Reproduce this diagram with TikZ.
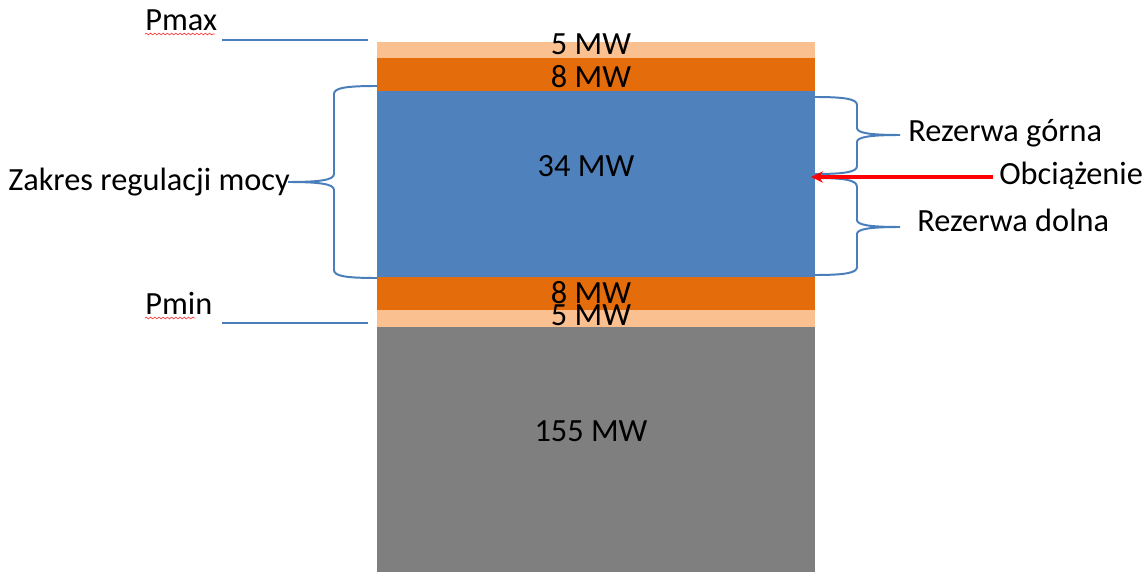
\documentclass[tikz,border=0pt]{standalone}
\usepackage{fontspec}
\setmainfont{Carlito}
\usetikzlibrary{decorations.pathmorphing, arrows.meta}

\definecolor{peach}{HTML}{FAC090}
\definecolor{rust}{HTML}{E46C0A}
\definecolor{steel}{HTML}{4F81BD}
\definecolor{slate}{HTML}{7F7F7F}
\definecolor{bracecol}{HTML}{4A7EBB}

\tikzset{
  brace/.style={draw=bracecol, line width=1.4pt},
  level/.style={draw=bracecol, line width=1.4pt},
  typo/.style={draw=red!75, line width=0.5pt, decorate,
    decoration={snake, segment length=3pt, amplitude=0.6pt}},
  lbl/.style={anchor=base, inner sep=0pt},
  txt/.style={anchor=base west, inner sep=0pt}
}

\begin{document}
\begin{tikzpicture}[x=0.025cm, y=-0.025cm, >={Stealth[length=8.5pt,width=8pt]},
    font=\fontsize{23}{27}\selectfont]
  \useasboundingbox (0,0) rectangle (1147,578);

  % the stack of power bands
  \fill[peach] (377,42) rectangle (815,58);
  \fill[rust] (377,58) rectangle (815,91);
  \fill[steel] (377,91) rectangle (815,277);
  \fill[rust] (377,277) rectangle (815,310);
  \fill[peach] (377,310) rectangle (815,327);
  \fill[slate] (377,327) rectangle (815,572);

  \node[lbl] (topfive) at (591,55) {5 MW};
  \node[lbl] (topeight) at (591,88) {8 MW};
  \node[lbl] (band) at (586,177) {34 MW};
  \node[lbl] (loweight) at (591,303) {8 MW};
  \node[lbl] (lowfive) at (591,325) {5 MW};
  \node[lbl] (base) at (591,441) {155 MW};

  % Pmax / Pmin marks
  \node[txt] (pmax) at (145,31) {Pmax};
  \node[txt] (pmin) at (145,314) {Pmin};
  \draw[typo] (145,34) -- (215,34);
  \draw[typo] (145,318) -- (195,318);
  \coordinate (pmaxa) at (222,40);
  \coordinate (pmaxb) at (368,40);
  \coordinate (pmina) at (222,323);
  \coordinate (pminb) at (368,323);
  \draw[level] (pmaxa) -- (pmaxb);
  \draw[level] (pmina) -- (pminb);

  % regulation range brace
  \draw[brace] (377,86) .. controls (345,86) and (334,88) .. (334,94) -- (334,174)
    .. controls (334,180) and (320,182) .. (288,182)
    .. controls (320,182) and (334,184) .. (334,190) -- (334,270)
    .. controls (334,276) and (345,278) .. (377,278);
  \node[txt] (zakres) at (8,190) {Zakres regulacji mocy};

  % reserve braces
  \draw[brace] (815,97) .. controls (845,97) and (857,99) .. (857,105) -- (857,128)
    .. controls (857,133) and (870,135) .. (900,135)
    .. controls (870,135) and (857,137) .. (857,142) -- (857,166)
    .. controls (857,172) and (845,174) .. (815,174);
  \draw[brace] (815,178) .. controls (845,178) and (857,180) .. (857,187) -- (857,220)
    .. controls (857,225) and (870,227) .. (900,227)
    .. controls (870,227) and (857,229) .. (857,234) -- (857,267)
    .. controls (857,273) and (845,275) .. (815,275);
  \node[txt] (gorna) at (908,142) {Rezerwa górna};
  \node[txt] (dolna) at (917,232) {Rezerwa dolna};

  % load arrow
  \node[txt] (obc) at (999,185) {Obciążenie};
  \coordinate (load) at (811,177);
  \draw[->, red, line width=2.8pt] (load -| obc.west) ++(-6,0) -- (load);
\end{tikzpicture}
\end{document}
